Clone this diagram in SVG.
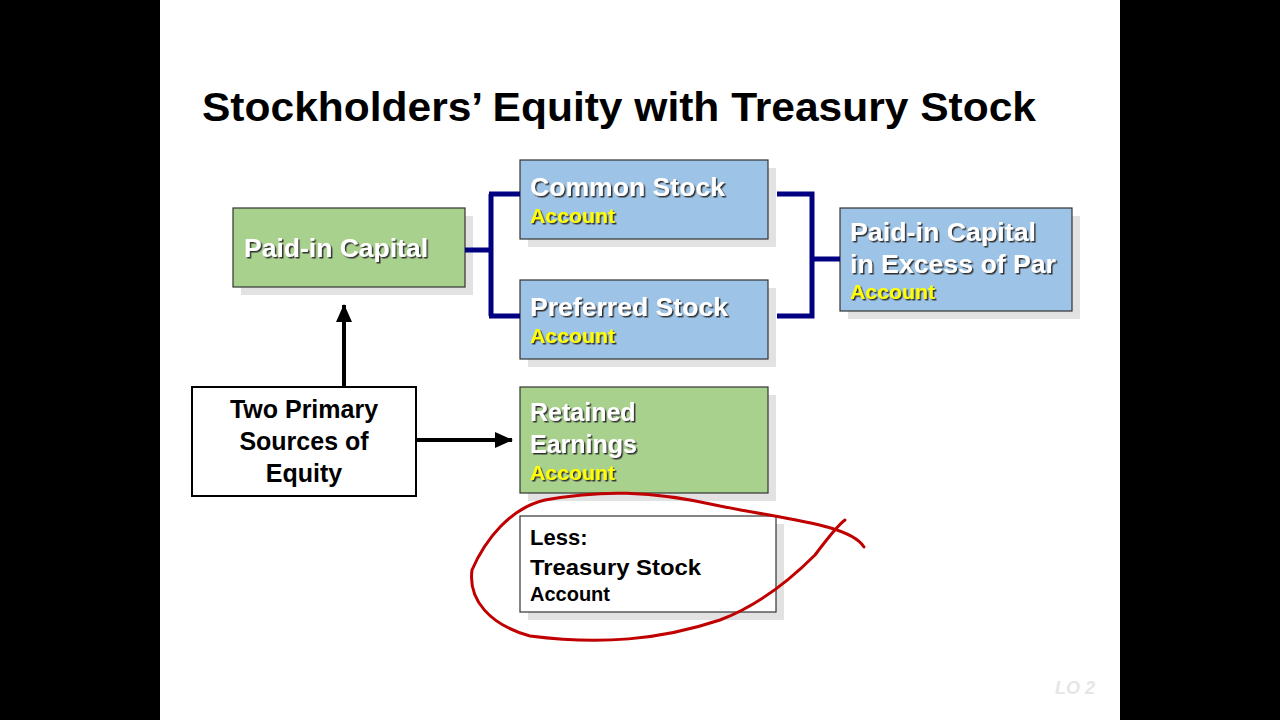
<svg xmlns="http://www.w3.org/2000/svg" width="1280" height="720" viewBox="0 0 1280 720">
<defs>
<style>
.t{font-family:"Liberation Sans",Arial,sans-serif;font-weight:bold}
.w{fill:#fff;font-size:25px;filter:url(#ts)}
.y{fill:#ffff00;font-size:20px;filter:url(#ts)}
.k{fill:#000}
.sh{fill:#e2e2e2}
.g{fill:#a9d18e;stroke:#333;stroke-width:1.2}
.b{fill:#9dc3e6;stroke:#333;stroke-width:1.2}
.n{fill:none;stroke:#000080;stroke-width:5}
</style>
<filter id="ts" x="-10%" y="-30%" width="130%" height="170%"><feDropShadow dx="1.5" dy="1.5" stdDeviation="0.5" flood-color="#333"/></filter>
<marker id="ah" markerWidth="18" markerHeight="18" refX="17" refY="9" orient="auto" markerUnits="userSpaceOnUse" viewBox="0 0 18 18"><path d="M0,1 L18,9 L0,17 z" fill="#000"/></marker>
</defs>
<rect width="1280" height="720" fill="#000"/>
<rect x="160" y="0" width="960" height="720" fill="#fff"/>
<text class="t k" x="202" y="121" font-size="41" textLength="834" lengthAdjust="spacingAndGlyphs">Stockholders’ Equity with Treasury Stock</text>
<g id="paid-in"><rect class="sh" x="241" y="216" width="232" height="79"/><rect class="g" x="233" y="208" width="232" height="79"/><text class="t w" x="244" y="257" textLength="184" lengthAdjust="spacingAndGlyphs">Paid-in Capital</text></g>
<g id="common"><rect class="sh" x="528" y="168" width="248" height="79"/><rect class="b" x="520" y="160" width="248" height="79"/><text class="t w" x="530" y="196" textLength="195" lengthAdjust="spacingAndGlyphs">Common Stock</text><text class="t y" x="530" y="223" textLength="85" lengthAdjust="spacingAndGlyphs">Account</text></g>
<g id="preferred"><rect class="sh" x="528" y="288" width="248" height="79"/><rect class="b" x="520" y="280" width="248" height="79"/><text class="t w" x="530" y="316" textLength="198" lengthAdjust="spacingAndGlyphs">Preferred Stock</text><text class="t y" x="530" y="343" textLength="85" lengthAdjust="spacingAndGlyphs">Account</text></g>
<g id="excess"><rect class="sh" x="848" y="216" width="232" height="103"/><rect class="b" x="840" y="208" width="232" height="103"/><text class="t w" x="850" y="241" textLength="186" lengthAdjust="spacingAndGlyphs">Paid-in Capital</text><text class="t w" x="850" y="273" textLength="206" lengthAdjust="spacingAndGlyphs">in Excess of Par</text><text class="t y" x="850" y="299" textLength="85" lengthAdjust="spacingAndGlyphs">Account</text></g>
<g id="two"><rect x="192" y="387" width="224" height="109" fill="#fff" stroke="#000" stroke-width="2"/><text class="t k" font-size="25" text-anchor="middle"><tspan x="304" y="418">Two Primary</tspan><tspan x="304" y="450">Sources of</tspan><tspan x="304" y="482">Equity</tspan></text></g>
<g id="retained"><rect class="sh" x="528" y="395" width="248" height="106"/><rect class="g" x="520" y="387" width="248" height="106"/><text class="t w" x="530" y="421">Retained</text><text class="t w" x="530" y="453">Earnings</text><text class="t y" x="530" y="480" textLength="85" lengthAdjust="spacingAndGlyphs">Account</text></g>
<g id="treasury"><rect class="sh" x="528" y="524" width="256" height="96"/><rect x="520" y="516" width="256" height="96" fill="#fff" stroke="#333" stroke-width="1.2"/><text class="t k" x="530" y="545" font-size="22">Less:</text><text class="t k" x="530" y="575" font-size="22" textLength="171" lengthAdjust="spacingAndGlyphs">Treasury Stock</text><text class="t k" x="530" y="601" font-size="20">Account</text></g>
<g id="connectors">
<path class="n" d="M465,250 H491 M491,194 V316 M489,194 H520 M489,316 H520"/>
<path class="n" d="M777,194 H812 V316 H777 M812,259 H840"/>
<path d="M344,387 V305" stroke="#000" stroke-width="4" marker-end="url(#ah)" fill="none"/>
<path d="M416,440 H512" stroke="#000" stroke-width="4" marker-end="url(#ah)" fill="none"/>
</g>
<path d="M864,547 C850,525 790,520 720,506 C650,490 600,490 545,500 C510,508 485,540 472,570 C468,600 490,625 530,636 C600,645 660,640 720,620 C760,605 795,575 815,555 C830,535 838,525 845,520" fill="none" stroke="#c00000" stroke-width="3" stroke-linecap="round"/>
<text class="t" x="1095" y="694" font-size="18" font-style="italic" fill="#e6e6e6" text-anchor="end">LO 2</text>
</svg>
